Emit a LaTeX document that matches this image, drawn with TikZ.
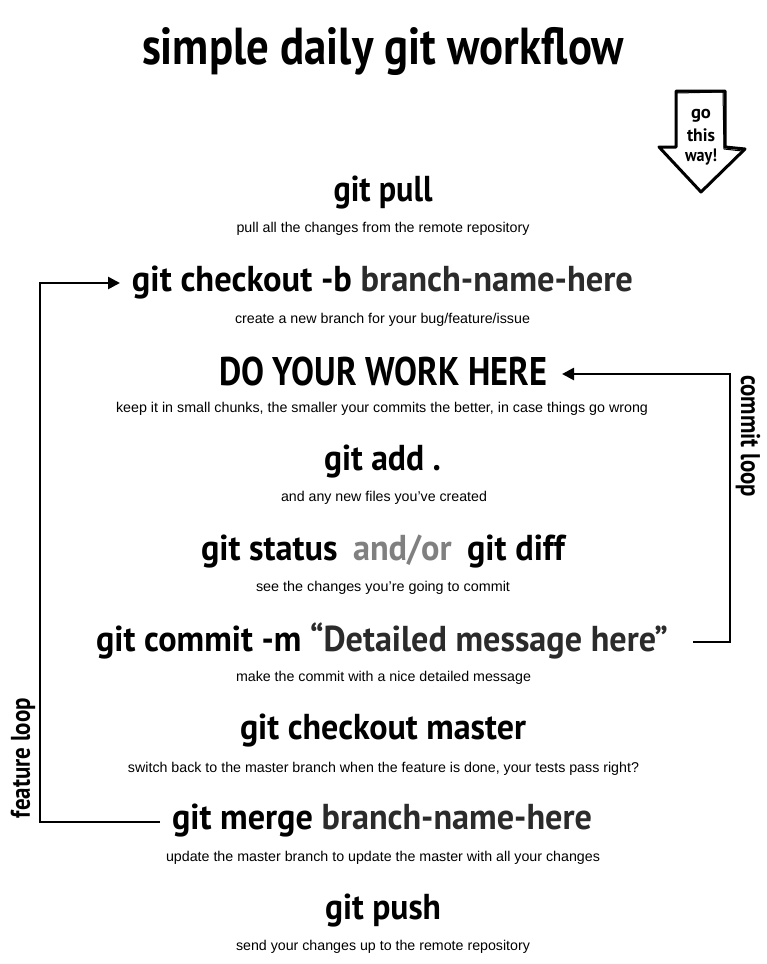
\documentclass[tikz,border=0pt]{standalone}
\usepackage{fontspec}
\setmainfont{Liberation Sans}
\newfontfamily\hfont{PT Sans}
\usetikzlibrary{arrows.meta}
\newlength\hdw
\newcommand\fitw[2]{\settowidth\hdw{#2}\pgfmathsetmacro\hdsc{#1/\hdw}\scalebox{\hdsc}[1]{#2}}
\definecolor{dg}{HTML}{2B2B2B}
\definecolor{lg}{HTML}{808080}
\begin{document}
\begin{tikzpicture}[x=1pt,y=-1pt,
  hd/.style={font=\hfont\bfseries\fontsize{36}{38}\selectfont, inner sep=0pt},
  ttl/.style={font=\hfont\bfseries\fontsize{52}{54}\selectfont, inner sep=0pt},
  big/.style={font=\hfont\bfseries\fontsize{40}{42}\selectfont, inner sep=0pt},
  sub/.style={font=\fontsize{14.2}{16}\selectfont, inner sep=0pt},
  looplbl/.style={font=\hfont\bfseries\fontsize{27}{29}\selectfont, inner sep=0pt},
  loopline/.style={line width=2.6pt, -{Triangle[length=12pt,width=12pt]}},
  bigarrow/.style={line width=3pt, line join=round},
  waytxt/.style={font=\hfont\bfseries\fontsize{18}{18}\selectfont, inner sep=0pt}
]
\useasboundingbox (0,0) rectangle (766,964);
\fill[white] (0,0) rectangle (766,964);

% title
\node[ttl] (title) at (383,51) {\fitw{482}{simple daily git workflow}};

% go this way arrow
\draw[bigarrow] (676,91) -- (725,91) -- (725,147) -- (745,149) -- (701,192) -- (659,147) -- (676,147) -- cycle;
\draw[line width=1pt] (677,93) -- (723,92) -- (724,149) -- (742,151);
\node[waytxt] (way1) at (701,116) {\fitw{20}{go}};
\node[waytxt] (way2) at (701,135.5) {\fitw{28}{this}};
\node[waytxt] (way3) at (701,157) {\fitw{32}{way!}};

% steps
\node[hd] (pull) at (383,193) {\fitw{99}{git pull}};
\node[sub] (pulls) at (383,229) {\fitw{293}{pull all the changes from the remote repository}};

\node[hd] (checkout) at (382.5,283) {\fitw{501}{git checkout -b \textcolor{dg}{branch-name-here}}};
\node[sub] (checkouts) at (382.5,320) {\fitw{295}{create a new branch for your bug/feature/issue}};

\node[big] (work) at (383,371) {\fitw{328}{DO YOUR WORK HERE}};
\node[sub] (works) at (382,409) {\fitw{532}{keep it in small chunks, the smaller your commits the better, in case things go wrong}};

\node[hd] (add) at (382.5,462) {\fitw{117}{git add .}};
\node[sub] (adds) at (384,498) {\fitw{206}{and any new files you’ve created}};

\node[hd] (status) at (383,551) {\fitw{364}{git status\hspace{0.45em}\textcolor{lg}{and/or}\hspace{0.45em}git diff}};
\node[sub] (statuss) at (383,588) {\fitw{254}{see the changes you’re going to commit}};

\node[hd] (commit) at (382,641) {\fitw{572}{git commit -m \textcolor{dg}{“Detailed message here”}}};
\node[sub] (commits) at (383.5,678) {\fitw{295}{make the commit with a nice detailed message}};

\node[hd] (master) at (383,731) {\fitw{286}{git checkout master}};
\node[sub] (masters) at (383.5,769) {\fitw{511}{switch back to the master branch when the feature is done, your tests pass right?}};

\node[hd] (merge) at (382,821) {\fitw{420}{git merge \textcolor{dg}{branch-name-here}}};
\node[sub] (merges) at (383,858) {\fitw{434}{update the master branch to update the master with all your changes}};

\node[hd] (push) at (383,911) {\fitw{116}{git push}};
\node[sub] (pushs) at (383,947) {\fitw{294}{send your changes up to the remote repository}};

% loops
\coordinate (fstart) at (160,822);
\coordinate (fend) at (120,283);
\draw[loopline] (fstart) -- (40,822) |- (fend);
\node[looplbl, rotate=90] (flbl) at (23,758) {\fitw{120}{feature loop}};

\coordinate (cstart) at (693,642);
\coordinate (cend) at (562,374);
\draw[loopline] (cstart) -- (730,642) |- (cend);
\node[looplbl, rotate=-90] (clbl) at (748,436) {\fitw{122}{commit loop}};
\end{tikzpicture}
\end{document}
